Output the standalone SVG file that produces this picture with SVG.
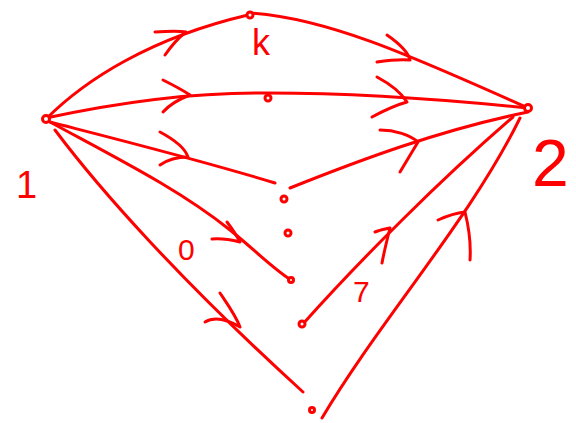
<svg xmlns="http://www.w3.org/2000/svg" width="576" height="423" viewBox="0 0 576 423">
<style>
.e{fill:none;stroke:#ff0000;stroke-width:3;stroke-linecap:round;stroke-linejoin:round}
.n{fill:#fff;stroke:#ff0000;stroke-width:3}
.t{fill:#ff0000;font-family:"Liberation Sans",Arial,sans-serif}
</style>
<rect width="576" height="423" fill="#fff"/>
<g id="connectors">
<path class="e" d="M46,119 C 85,80 150,38 248,15"/>
<path class="e" d="M155,32 C 170,31 180,31 186,32 M165,55 C 172,45 178,38 186,32"/>
<path class="e" d="M250,13 C 330,18 420,60 528,108"/>
<path class="e" d="M387,35 C 400,44 408,52 410,60 M377,62 C 390,60 400,59 410,60"/>
<path class="e" d="M46,118 C 120,102 200,92 268,93 C 350,93 450,100 528,108"/>
<path class="e" d="M163,80 C 175,86 184,91 190,95 M163,112 C 172,102 182,98 190,95"/>
<path class="e" d="M377,77 C 392,85 402,94 407,102 M372,117 C 385,110 396,105 407,102"/>
<path class="e" d="M50,122 C 120,140 200,160 275,183"/>
<path class="e" d="M160,132 C 175,140 185,148 188,157 M160,165 C 170,158 180,157 188,157"/>
<path class="e" d="M290,188 C 360,160 440,130 528,112"/>
<path class="e" d="M380,130 C 395,130 410,135 418,142 M418,142 C 412,152 406,162 400,172"/>
<path class="e" d="M50,122 C 120,160 180,190 230,230 C 255,250 272,268 291,280"/>
<path class="e" d="M227,222 C 233,230 237,236 240,242 M212,239 C 222,238 232,240 240,242"/>
<path class="e" d="M55,130 C 100,190 180,280 303,392"/>
<path class="e" d="M220,293 C 228,305 236,316 240,327 M205,322 C 215,316 228,320 240,327"/>
<path class="e" d="M302,325 C 360,260 440,180 513,117"/>
<path class="e" d="M375,232 C 380,230 386,229 390,228 M390,228 C 387,240 384,252 382,263"/>
<path class="e" d="M322,418 C 380,320 470,220 520,118"/>
<path class="e" d="M438,220 C 447,216 456,213 465,212 M465,212 C 469,228 471,245 470,260"/>
</g>
<g id="node-1"><circle class="n" cx="46" cy="119" r="3.5"/><text class="t" x="16" y="198" font-size="38">1</text></g>
<g id="node-k"><circle class="n" cx="250" cy="15" r="3"/><text class="t" x="252" y="55" font-size="36">k</text></g>
<g id="node-a"><circle class="n" cx="268" cy="98" r="3"/></g>
<g id="node-2"><circle class="n" cx="528" cy="108" r="3.5"/><text class="t" x="532" y="186" font-size="66">2</text></g>
<g id="node-b"><circle class="n" cx="284" cy="199" r="3"/></g>
<g id="node-c"><circle class="n" cx="288" cy="233" r="3"/></g>
<g id="node-d"><circle class="n" cx="291" cy="280" r="2.5"/></g>
<g id="node-e"><circle class="n" cx="302" cy="324" r="3"/></g>
<g id="node-f"><circle class="n" cx="312" cy="410" r="2.5"/></g>
<g id="labels">
<text class="t" x="178" y="260" font-size="30">0</text>
<text class="t" x="353" y="302" font-size="30">7</text>
</g>
</svg>
